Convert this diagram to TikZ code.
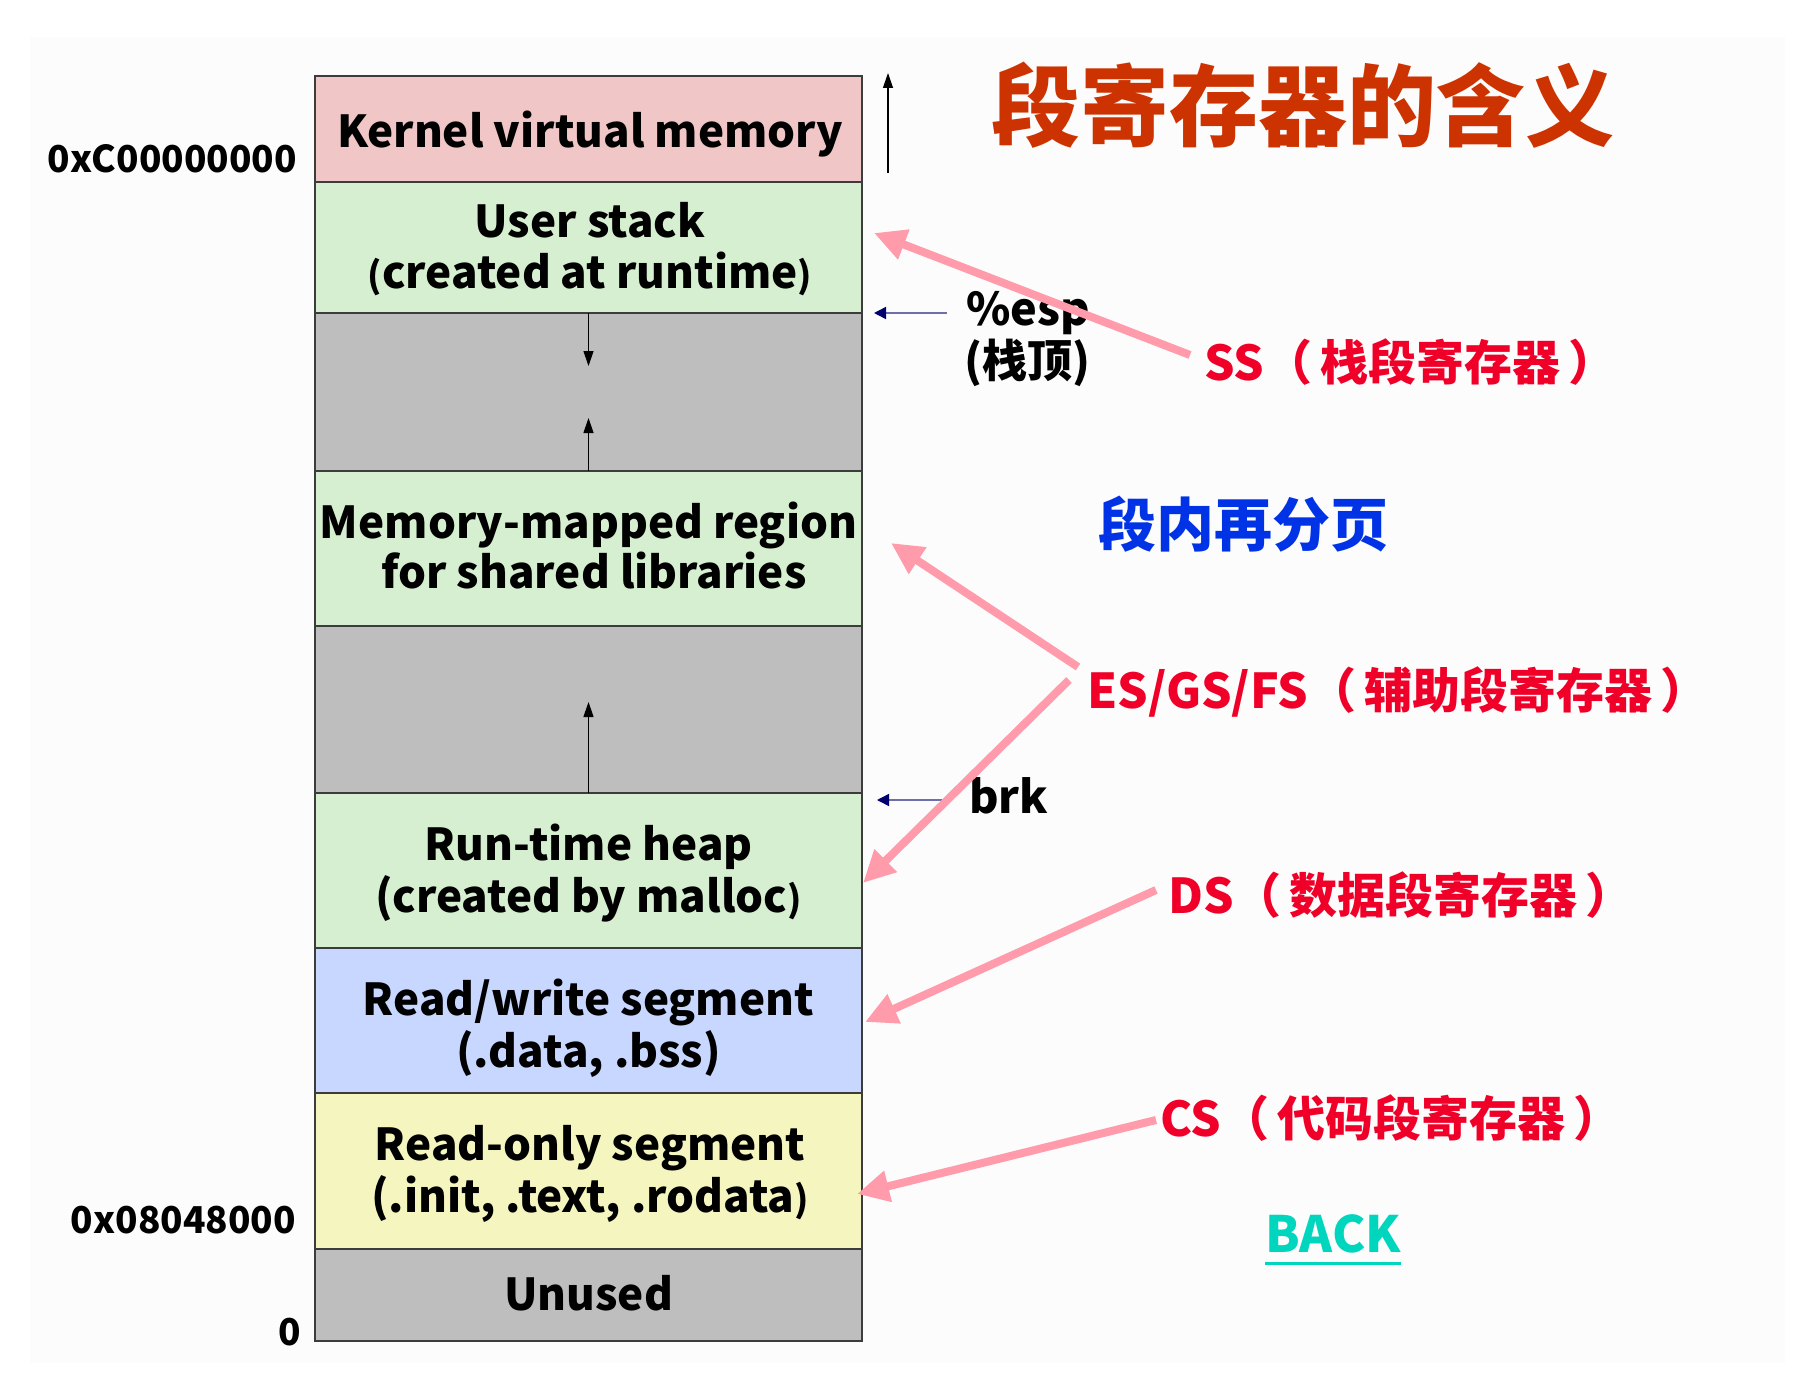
\documentclass[tikz,border=0pt]{standalone}
\usepackage{fontspec}
\setmainfont{Noto Sans CJK SC}
\usetikzlibrary{arrows.meta,calc}
\definecolor{kpink}{RGB}{240,198,198}
\definecolor{sgreen}{RGB}{213,239,208}
\definecolor{sgray}{RGB}{190,190,190}
\definecolor{sblue}{RGB}{200,215,255}
\definecolor{syellow}{RGB}{245,245,192}
\definecolor{sborder}{RGB}{60,60,60}
\definecolor{titlered}{RGB}{204,51,0}
\definecolor{regred}{RGB}{240,0,40}
\definecolor{pageblue}{RGB}{0,51,230}
\definecolor{pinkarrow}{RGB}{255,155,170}
\definecolor{navy}{RGB}{0,0,110}
\definecolor{lavline}{RGB}{110,110,170}
\definecolor{backcyan}{RGB}{0,214,190}
\definecolor{panel}{RGB}{252,252,252}
\newcommand{\smallp}[1]{{\fontsize{36}{36}\selectfont #1}}
\newcommand{\lp}{（\hspace{8pt}}
\newcommand{\rp}{\hspace{8pt}）}
\begin{document}
\begin{tikzpicture}[x=1pt,y=-1pt,
  seg/.style={draw=sborder, line width=1.8pt, minimum width=547pt, inner sep=0pt, outer sep=0pt},
  boxtxt/.style={font=\fontsize{44}{51}\selectfont\bfseries, inner sep=0pt, anchor=base},
  addr/.style={font=\fontsize{37}{40}\selectfont\bfseries, inner sep=0pt, anchor=base east},
  reg/.style={font=\fontsize{48}{52}\selectfont\bfseries, text=regred, inner sep=0pt, anchor=west},
  side/.style={font=\fontsize{45}{50}\selectfont\bfseries, inner sep=0pt},
  smallarr/.style={line width=1.2pt, -{Triangle[length=15pt,width=10pt]}},
  navyarr/.style={draw=lavline, line width=1.5pt, -{Triangle[length=12pt,width=12pt,color=navy]}},
  pinkarr/.style={draw=pinkarrow, line width=8pt, -{Triangle[length=32pt,width=30pt]}}
]
\fill[white] (0,0) rectangle (1810,1375);
\fill[panel] (30,37) rectangle (1785,1363);

% segments
\node[seg, fill=kpink,   minimum height=106pt] (kern)   at (588.5,129)   {};
\node[seg, fill=sgreen,  minimum height=131pt] (ustack) at (588.5,247.5) {};
\node[seg, fill=sgray,   minimum height=158pt] (gap1)   at (588.5,392)   {};
\node[seg, fill=sgreen,  minimum height=155pt] (mmap)   at (588.5,548.5) {};
\node[seg, fill=sgray,   minimum height=167pt] (gap2)   at (588.5,709.5) {};
\node[seg, fill=sgreen,  minimum height=155pt] (heap)   at (588.5,870.5) {};
\node[seg, fill=sblue,   minimum height=145pt] (rw)     at (588.5,1020.5){};
\node[seg, fill=syellow, minimum height=156pt] (ro)     at (588.5,1171)  {};
\node[seg, fill=sgray,   minimum height=92pt]  (unused) at (588.5,1295)  {};

% segment texts
\node[boxtxt] (tk)  at (590,148)    {Kernel virtual memory};
\node[boxtxt] (tu1) at (590,237)    {User stack};
\node[boxtxt] (tu2) at (590,288)    {\smallp{(}created at runtime\smallp{)}};
\node[boxtxt] (tm1) at (588.5,538)  {Memory-mapped region};
\node[boxtxt] (tm2) at (594,588)    {for shared libraries};
\node[boxtxt] (th1) at (588.5,860)  {Run-time heap};
\node[boxtxt] (th2) at (588.5,912)  {(created by malloc\smallp{)}};
\node[boxtxt] (tw1) at (588.5,1015) {Read/write segment};
\node[boxtxt] (tw2) at (588.5,1067) {(.data, .bss)};
\node[boxtxt] (tr1) at (590,1160)   {Read-only segment};
\node[boxtxt] (tr2) at (590,1212)   {(.init, .text, .rodata\smallp{)}};
\node[boxtxt] (tn)  at (588.5,1310) {Unused};

% addresses
\node[addr] (a1) at (297,173)  {0xC00000000};
\node[addr] (a2) at (296,1233) {0x08048000};
\node[addr] (a3) at (301,1345) {0};

% growth arrows
\draw[smallarr] (ustack.south) -- ++(0,53);
\draw[smallarr] (gap1.south) -- ++(0,-53);
\draw[smallarr] (heap.north) -- ++(0,-91);
\coordinate (kb) at (888,173);
\coordinate (kt) at (888,73);
\draw[smallarr] (kb) -- (kt);

% esp and brk
\node[side, anchor=base west] (esp) at (966,325) {\%esp};
\node[side, anchor=west] (espz) at (964,363) {(栈顶)};
\node[side, anchor=base west] (brk) at (969,813) {brk};
\coordinate (espA) at (947,313);
\coordinate (espB) at (874,313);
\coordinate (brkA) at (942,800);
\coordinate (brkB) at (877,800);
\draw[navyarr] (espA) -- (espB);
\draw[navyarr] (brkA) -- (brkB);

% titles
\node[font=\fontsize{89}{95}\selectfont\bfseries, text=titlered, inner sep=0pt] (title) at (1303,105) {段寄存器的含义};
\node[font=\fontsize{58}{62}\selectfont\bfseries, text=pageblue, inner sep=0pt] (paging) at (1243,524) {段内再分页};

% register labels
\node[reg] (ss) at (1204,362)  {SS\lp 栈段寄存器\rp};
\node[reg] (es) at (1087,692)  {ES/GS/FS\lp 辅助段寄存器\rp};
\node[reg] (ds) at (1168,895)  {DS\lp 数据段寄存器\rp};
\node[reg] (cs) at (1160,1118) {CS\lp 代码段寄存器\rp};

% pink pointers
\coordinate (ssA) at (1190,355);  \coordinate (ssB) at (874,233);
\coordinate (esA) at (1078,667);  \coordinate (esB) at (891,543);
\coordinate (esC) at (1069,680);  \coordinate (esD) at (863,883);
\coordinate (dsA) at (1156,890);  \coordinate (dsB) at (865,1022);
\coordinate (csA) at (1156,1120); \coordinate (csB) at (857,1194);
\draw[pinkarr] (ssA) -- (ssB);
\draw[pinkarr] (esA) -- (esB);
\draw[pinkarr] (esC) -- (esD);
\draw[pinkarr] (dsA) -- (dsB);
\draw[pinkarr] (csA) -- (csB);

% BACK
\node[font=\fontsize{50}{54}\selectfont\bfseries, text=backcyan, inner sep=0pt, anchor=base west] (back) at (1265,1252) {BACK};
\draw[backcyan, line width=3pt] ($(back.base west)+(0,11)$) -- ($(back.base east)+(0,11)$);
\end{tikzpicture}
\end{document}
